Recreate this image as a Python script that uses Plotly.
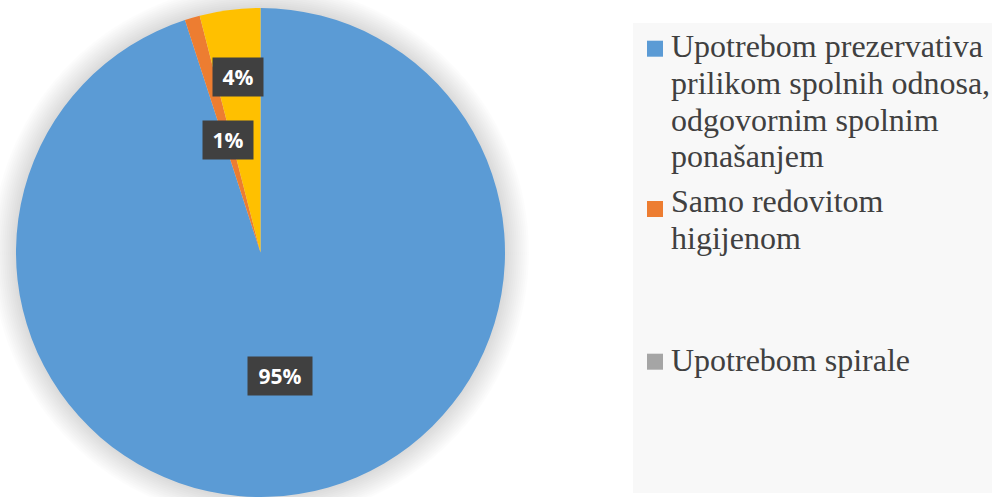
import math
import plotly.graph_objects as go

# ---------------- data ----------------
categories = [
    "Upotrebom prezervativa prilikom spolnih odnosa, odgovornim spolnim ponašanjem",
    "Samo redovitom higijenom",
    "Upotrebom spirale",
    "Ostalo",
]
values = [95, 1, 0, 4]
legend_lines = [
    ["Upotrebom prezervativa", "prilikom spolnih odnosa,", "odgovornim spolnim", "ponašanjem"],
    ["Samo redovitom", "higijenom"],
    ["Upotrebom spirale"],
]
colors = ["#5B9BD5", "#ED7D31", "#A5A5A5", "#FFC000"]

# ---------------- layout constants ----------------
W, H = 992, 497
TOP = 8
DOM_X = [0, 521 / W]
DOM_Y = [0, 1 - TOP / H]
cx = (DOM_X[0] + DOM_X[1]) / 2 * W
r = min((DOM_X[1] - DOM_X[0]) * W, (DOM_Y[1] - DOM_Y[0]) * H) / 2
cy = TOP + (DOM_Y[1] - DOM_Y[0]) * H / 2
label_radius = [0.51, 0.48, 0.6, 0.725]  # label placement (fraction of radius)

LEG_FONT = 32
LEG_LINE = 36.6
LEG_FIRST_BASELINE = [58, 213, 372]
LEG_SWATCH_CY = [48.7, 209, 361.7]
LEG_TEXT_X = 669
LEG_SWATCH_X = [647, 663]

fig = go.Figure()
fig.add_trace(go.Pie(
    labels=categories, values=values, sort=False, direction="clockwise", rotation=0,
    marker=dict(colors=colors, line=dict(width=0)),
    textinfo="none", hoverinfo="skip", showlegend=False,
    domain=dict(x=DOM_X, y=DOM_Y),
))

# percentage labels positioned from the data angles
total = sum(values)
annotations = []
cum = 0.0
for v, f in zip(values, label_radius):
    start = cum
    cum += v
    if v == 0:
        continue
    mid = (start + v / 2) / total * 2 * math.pi
    px = cx + f * r * math.sin(mid)
    py = cy - f * r * math.cos(mid)
    txt = f"{round(v / total * 100)}%"
    annotations.append(dict(
        x=px / W, y=1 - py / H, xref="paper", yref="paper", showarrow=False,
        xanchor="center", yanchor="middle",
        text=f"<b>{txt}</b>",
        font=dict(family="Open Sans", size=21, color="white"),
        bgcolor="#404040", borderpad=5, width=14 * len(txt) + 12,
    ))

shapes = []
# soft shadow around pie
for k in range(2, 26, 2):
    rr = r + k
    shapes.append(dict(type="circle", xref="paper", yref="paper", layer="below",
                       x0=(cx - rr) / W, x1=(cx + rr) / W,
                       y0=1 - (cy + rr) / H, y1=1 - (cy - rr) / H,
                       fillcolor="rgba(0,0,0,0.012)", line=dict(width=0)))
# legend background
shapes.append(dict(type="rect", xref="paper", yref="paper", layer="below",
                   x0=633 / W, x1=1, y0=1 - 493 / H, y1=1 - 23 / H,
                   fillcolor="#F8F8F8", line=dict(width=0)))

# legend (swatch + text lines)
for i, lines in enumerate(legend_lines):
    sc = LEG_SWATCH_CY[i]
    shapes.append(dict(type="rect", xref="paper", yref="paper", layer="above",
                       x0=LEG_SWATCH_X[0] / W, x1=LEG_SWATCH_X[1] / W,
                       y0=1 - (sc + 8) / H, y1=1 - (sc - 8) / H,
                       fillcolor=colors[i], line=dict(width=0)))
    for j, line in enumerate(lines):
        base = LEG_FIRST_BASELINE[i] + j * LEG_LINE
        annotations.append(dict(
            x=LEG_TEXT_X / W, y=1 - (base - 0.36 * LEG_FONT) / H,
            xref="paper", yref="paper", showarrow=False,
            xanchor="left", yanchor="middle", align="left", text=line,
            font=dict(family="Liberation Serif, Times New Roman, serif", size=LEG_FONT, color="#404040"),
        ))

fig.update_layout(
    width=W, height=H,
    margin=dict(l=0, r=0, t=0, b=0),
    paper_bgcolor="white", plot_bgcolor="rgba(0,0,0,0)",
    showlegend=False,
    annotations=annotations,
    shapes=shapes,
)

fig.write_html("out.html", config={"displayModeBar": False},
               post_script="document.body.style.margin='0';document.body.style.overflow='hidden';")
